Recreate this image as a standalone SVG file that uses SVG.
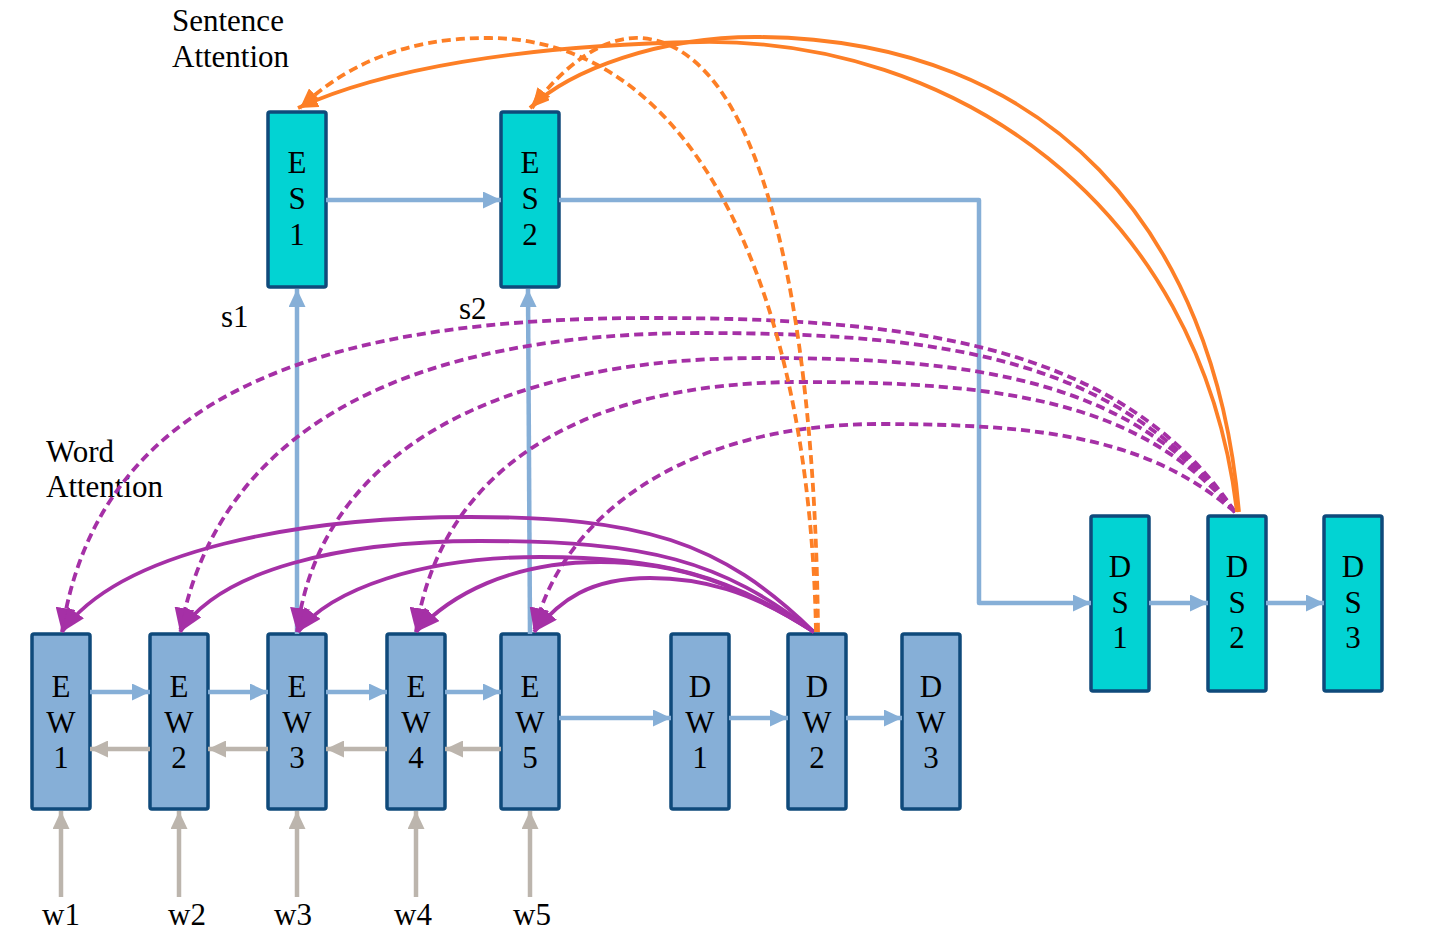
<svg xmlns="http://www.w3.org/2000/svg" width="1435" height="942" viewBox="0 0 1435 942">
<style>
.nodeW{fill:#86afd7;stroke:#0f4a7b;stroke-width:3.5}
.nodeS{fill:#02d3d3;stroke:#0f4a7b;stroke-width:3.5}
.nt{font-family:"Liberation Serif","Times New Roman",serif;font-size:31px;fill:#000;text-anchor:middle}
.lbl{font-family:"Liberation Serif","Times New Roman",serif;font-size:31px;fill:#000}
.blue{fill:none;stroke:#86afd7;stroke-width:4.5;marker-end:url(#aBlue)}
.gray{fill:none;stroke:#bcb5ad;stroke-width:4.5;marker-end:url(#aGray)}
.or{fill:none;stroke:#fd7f26;stroke-width:3.8;marker-end:url(#aOr)}
.ord{fill:none;stroke:#fd7f26;stroke-width:3.8;stroke-dasharray:9 5;marker-end:url(#aOr)}
.mg{fill:none;stroke:#a530a6;stroke-width:3.8;marker-end:url(#aMg)}
.mgd{fill:none;stroke:#a530a6;stroke-width:3.8;stroke-dasharray:9 5;marker-end:url(#aMg)}
</style>
<defs>
<marker id="aBlue" markerUnits="userSpaceOnUse" viewBox="0 0 18 17" refX="18" refY="8.5" markerWidth="18" markerHeight="17" orient="auto"><path d="M0,0 L18,8.5 L0,17 z" fill="#86afd7"/></marker>
<marker id="aGray" markerUnits="userSpaceOnUse" viewBox="0 0 18 17" refX="18" refY="8.5" markerWidth="18" markerHeight="17" orient="auto"><path d="M0,0 L18,8.5 L0,17 z" fill="#bcb5ad"/></marker>
<marker id="aOr" markerUnits="userSpaceOnUse" viewBox="0 0 20 16" refX="20" refY="8" markerWidth="20" markerHeight="16" orient="auto"><path d="M0,0 L20,8 L0,16 z" fill="#fd7f26"/></marker>
<marker id="aMg" markerUnits="userSpaceOnUse" viewBox="0 0 24 20" refX="24" refY="10" markerWidth="24" markerHeight="20" orient="auto"><path d="M0,0 L24,10 L0,20 z" fill="#a530a6"/></marker>
</defs>
<rect width="1435" height="942" fill="#fff"/>

<g id="labels">
<text class="lbl" x="172" y="31">Sentence</text>
<text class="lbl" x="172" y="67">Attention</text>
<text class="lbl" x="46" y="462">Word</text>
<text class="lbl" x="46" y="497">Attention</text>
<text class="lbl" x="221" y="327">s1</text>
<text class="lbl" x="459" y="319">s2</text>
<text class="lbl" x="42" y="925">w1</text>
<text class="lbl" x="168" y="925">w2</text>
<text class="lbl" x="274" y="925">w3</text>
<text class="lbl" x="394" y="925">w4</text>
<text class="lbl" x="513" y="925">w5</text>
</g>

<g id="EW1"><rect class="nodeW" x="32" y="634" width="58" height="175" rx="2"/><text class="nt" x="61" y="697">E</text><text class="nt" x="61" y="733">W</text><text class="nt" x="61" y="768">1</text></g>
<g id="EW2"><rect class="nodeW" x="150" y="634" width="58" height="175" rx="2"/><text class="nt" x="179" y="697">E</text><text class="nt" x="179" y="733">W</text><text class="nt" x="179" y="768">2</text></g>
<g id="EW3"><rect class="nodeW" x="268" y="634" width="58" height="175" rx="2"/><text class="nt" x="297" y="697">E</text><text class="nt" x="297" y="733">W</text><text class="nt" x="297" y="768">3</text></g>
<g id="EW4"><rect class="nodeW" x="387" y="634" width="58" height="175" rx="2"/><text class="nt" x="416" y="697">E</text><text class="nt" x="416" y="733">W</text><text class="nt" x="416" y="768">4</text></g>
<g id="EW5"><rect class="nodeW" x="501" y="634" width="58" height="175" rx="2"/><text class="nt" x="530" y="697">E</text><text class="nt" x="530" y="733">W</text><text class="nt" x="530" y="768">5</text></g>
<g id="DW1"><rect class="nodeW" x="671" y="634" width="58" height="175" rx="2"/><text class="nt" x="700" y="697">D</text><text class="nt" x="700" y="733">W</text><text class="nt" x="700" y="768">1</text></g>
<g id="DW2"><rect class="nodeW" x="788" y="634" width="58" height="175" rx="2"/><text class="nt" x="817" y="697">D</text><text class="nt" x="817" y="733">W</text><text class="nt" x="817" y="768">2</text></g>
<g id="DW3"><rect class="nodeW" x="902" y="634" width="58" height="175" rx="2"/><text class="nt" x="931" y="697">D</text><text class="nt" x="931" y="733">W</text><text class="nt" x="931" y="768">3</text></g>
<g id="ES1"><rect class="nodeS" x="268" y="112" width="58" height="175" rx="2"/><text class="nt" x="297" y="173">E</text><text class="nt" x="297" y="209">S</text><text class="nt" x="297" y="245">1</text></g>
<g id="ES2"><rect class="nodeS" x="501" y="112" width="58" height="175" rx="2"/><text class="nt" x="530" y="173">E</text><text class="nt" x="530" y="209">S</text><text class="nt" x="530" y="245">2</text></g>
<g id="DS1"><rect class="nodeS" x="1091" y="516" width="58" height="175" rx="2"/><text class="nt" x="1120" y="577">D</text><text class="nt" x="1120" y="613">S</text><text class="nt" x="1120" y="648">1</text></g>
<g id="DS2"><rect class="nodeS" x="1208" y="516" width="58" height="175" rx="2"/><text class="nt" x="1237" y="577">D</text><text class="nt" x="1237" y="613">S</text><text class="nt" x="1237" y="648">2</text></g>
<g id="DS3"><rect class="nodeS" x="1324" y="516" width="58" height="175" rx="2"/><text class="nt" x="1353" y="577">D</text><text class="nt" x="1353" y="613">S</text><text class="nt" x="1353" y="648">3</text></g>

<g id="connectors">
<path class="blue" d="M90,692 H150"/>
<path class="blue" d="M208,692 H268"/>
<path class="blue" d="M326,692 H387"/>
<path class="blue" d="M445,692 H501"/>
<path class="gray" d="M150,749 H90"/>
<path class="gray" d="M268,749 H208"/>
<path class="gray" d="M387,749 H326"/>
<path class="gray" d="M501,749 H445"/>
<path class="gray" d="M61,897 V811"/>
<path class="gray" d="M179,897 V811"/>
<path class="gray" d="M297,897 V811"/>
<path class="gray" d="M416,897 V811"/>
<path class="gray" d="M530,897 V811"/>
<path class="blue" d="M559,718 H671"/>
<path class="blue" d="M729,718 H788"/>
<path class="blue" d="M846,718 H902"/>
<path class="blue" d="M297,634 V289"/>
<path class="blue" d="M530,634 L528,289"/>
<path class="blue" d="M326,200 H501"/>
<path class="blue" d="M559,200 H979 V603 H1091" stroke-linejoin="round"/>
<path class="blue" d="M1149,603 H1208"/>
<path class="blue" d="M1266,603 H1324"/>
<path class="mgd" d="M1235,512 C1120,340 900,318 650,318 C350,318 100,380 62,632"/>
<path class="mgd" d="M1235,512 C1120,360 950,333 700,333 C420,333 220,420 180,632"/>
<path class="mgd" d="M1235,512 C1130,380 980,358 760,358 C500,358 320,450 297,632"/>
<path class="mgd" d="M1235,512 C1140,400 1000,382 800,382 C580,382 440,470 416,632"/>
<path class="mgd" d="M1235,512 C1150,440 1050,424 880,424 C680,424 560,520 534,632"/>
<path class="mg" d="M814,632 C720,540 640,517 470,517 C300,517 120,550 62,632"/>
<path class="mg" d="M814,632 C720,560 650,541 480,541 C340,541 220,570 180,632"/>
<path class="mg" d="M814,632 C730,575 660,557 540,557 C420,557 330,590 298,632"/>
<path class="mg" d="M814,632 C740,585 680,562 600,562 C510,562 450,595 416,632"/>
<path class="mg" d="M814,632 C750,590 700,578 650,578 C590,578 560,600 534,632"/>
<path class="ord" d="M816,632 C810,300 700,40 490,38 C400,37 340,70 300,108"/>
<path class="ord" d="M818,632 C815,300 760,45 640,38 C600,36 560,70 532,108"/>
<path class="or" d="M1237,512 C1200,200 950,38 700,42 C520,45 380,70 298,108"/>
<path class="or" d="M1239,512 C1215,230 1050,40 760,37 C660,36 570,70 530,108"/>
</g>
</svg>
